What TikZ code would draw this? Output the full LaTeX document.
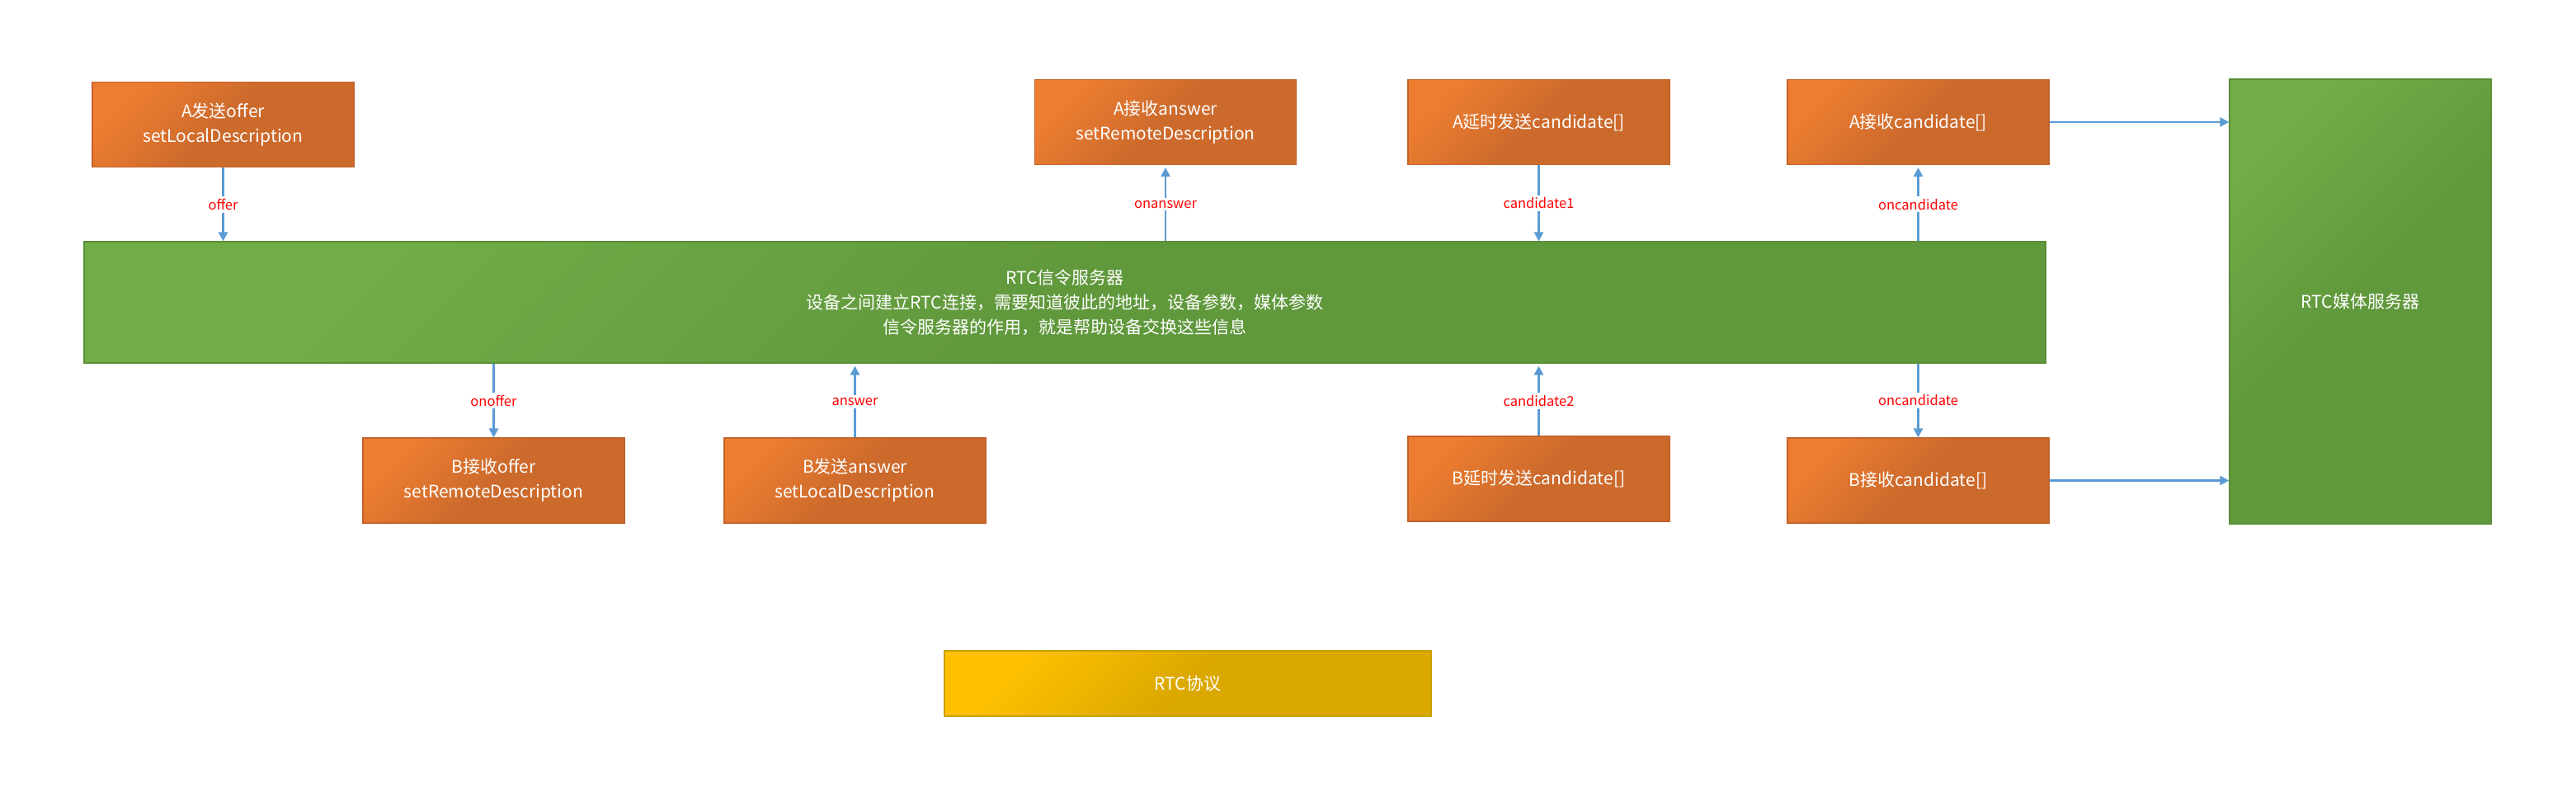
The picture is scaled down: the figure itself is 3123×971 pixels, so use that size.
\documentclass[tikz,border=0pt]{standalone}
\usepackage{fontspec}
\setmainfont{Noto Sans CJK SC}
\usetikzlibrary{arrows.meta}
\definecolor{orL}{HTML}{ED7D31}
\definecolor{orD}{HTML}{CC6A2C}
\definecolor{orB}{HTML}{C2622A}
\definecolor{grL}{HTML}{70AD47}
\definecolor{grD}{HTML}{60983C}
\definecolor{grB}{HTML}{5A8E37}
\definecolor{goL}{HTML}{FFC000}
\definecolor{goD}{HTML}{DBA800}
\definecolor{goB}{HTML}{C9A000}
\definecolor{arrowblue}{HTML}{5B9BD5}
\begin{document}
\begin{tikzpicture}[x=1pt,y=-1pt,
  box/.style={inner sep=0pt, text=white, align=center, font=\fontsize{21}{30}\selectfont, line width=1.2pt},
  obox/.style={box, draw=orB, top color=orL, bottom color=orD, middle color=orD, shading angle=45, minimum width=317pt, minimum height=103pt},
  gbox/.style={box, draw=grB, top color=grL, bottom color=grD, middle color=grD, shading angle=45},
  ybox/.style={box, draw=goB, top color=goL, bottom color=goD, middle color=goD, shading angle=45},
  arr/.style={draw=arrowblue, line width=2.6pt, -{Triangle[length=11pt,width=11pt]}},
  lbl/.style={fill=white, text=red, inner sep=3pt, font=\fontsize{16.5}{19}\selectfont}
]
\useasboundingbox (0,0) rectangle (3123,971);
\fill[white] (0,0) rectangle (3123,971);

\node[obox] (Aoff) at (270.5,151) {A发送offer\\setLocalDescription};
\node[obox] (Aans) at (1413,148) {A接收answer\\setRemoteDescription};
\node[obox] (Acs) at (1865.5,148) {A延时发送candidate[]};
\node[obox] (Acr) at (2325.5,148) {A接收candidate[]};
\node[gbox, minimum width=317pt, minimum height=539pt] (media) at (2861.5,365.5) {RTC媒体服务器};
\node[gbox, minimum width=2378pt, minimum height=147pt] (sig) at (1291,366.5) {RTC信令服务器\\设备之间建立RTC连接，需要知道彼此的地址，设备参数，媒体参数\\信令服务器的作用，就是帮助设备交换这些信息};
\node[obox] (Bor) at (598.5,582.5) {B接收offer\\setRemoteDescription};
\node[obox] (Bas) at (1036.5,582.5) {B发送answer\\setLocalDescription};
\node[obox] (Bcs) at (1865.5,580.5) {B延时发送candidate[]};
\node[obox] (Bcr) at (2325.5,582.5) {B接收candidate[]};
\node[ybox, minimum width=590pt, minimum height=79pt] (proto) at (1440,828.5) {RTC协议};

\draw[arr] (Aoff.south) -- (Aoff.south |- sig.north) node[lbl, midway] {offer};
\draw[arr] (Aans.south |- sig.north) -- ([yshift=-3pt]Aans.south) node[lbl, midway] {onanswer};
\draw[arr] (Acs.south) -- (Acs.south |- sig.north) node[lbl, midway] {candidate1};
\draw[arr] (Acr.south |- sig.north) -- ([yshift=-3pt]Acr.south) node[lbl, midway] {oncandidate};
\draw[arr] (Bor.north |- sig.south) -- (Bor.north) node[lbl, midway] {onoffer};
\draw[arr] (Bas.north) -- ([yshift=-3pt]Bas.north |- sig.south) node[lbl, midway] {answer};
\draw[arr] (Bcs.north) -- ([yshift=-3pt]Bcs.north |- sig.south) node[lbl, midway] {candidate2};
\draw[arr] (Bcr.north |- sig.south) -- (Bcr.north) node[lbl, midway] {oncandidate};
\draw[arr] (Acr.east) -- (Acr.east -| media.west);
\draw[arr] (Bcr.east) -- (Bcr.east -| media.west);
\end{tikzpicture}
\end{document}
